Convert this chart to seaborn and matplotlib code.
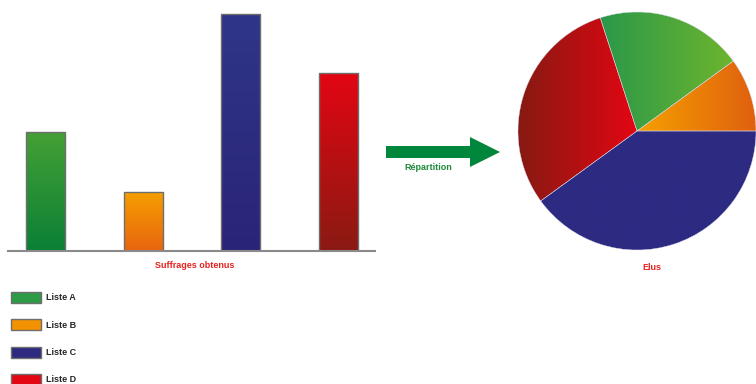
import matplotlib
matplotlib.use("Agg")
import matplotlib.pyplot as plt
from matplotlib.colors import LinearSegmentedColormap
from matplotlib.patches import Patch, FancyArrow
import numpy as np
import seaborn as sns

# data
listes = ["Liste A", "Liste B", "Liste C", "Liste D"]
suffrages = [20, 10, 40, 30]
elus = [2, 1, 4, 3]
pie_order = [1, 0, 3, 2]  # B, A, D, C counterclockwise from east

solid = ["#2E9A45", "#F39200", "#2D2A80", "#E30613"]
bar_grad = [("#45A035", "#0A8035"), ("#F5A000", "#E8650F"),
            ("#2F3689", "#2A2477"), ("#E30613", "#8A1A12")]
pie_grad = [("#2A984A", "#6DB52D"), ("#F5A000", "#E0600F"),
            ("#2D2A82", "#2D2A82"), ("#861A12", "#E30613")]

sns.set_theme(style="white")
plt.rcParams["font.family"] = ["Liberation Sans", "DejaVu Sans"]

W, H = 756, 384
fig = plt.figure(figsize=(W / 100, H / 100), dpi=100)

# ---- bar chart ----
ax1 = fig.add_axes([8 / W, (H - 251) / H, 367 / W, 241 / H])
sns.barplot(x=listes, y=suffrages, hue=listes, palette=solid, legend=False,
            width=0.4, edgecolor="#6E6E6E", linewidth=1, ax=ax1)
ax1.set_xticks([])
ax1.set_yticks([])
ax1.set_xlabel("")
ax1.set_ylabel("")
for s in ["top", "left", "right"]:
    ax1.spines[s].set_visible(False)
ax1.spines["bottom"].set_color("#8A8A8A")
ax1.spines["bottom"].set_linewidth(1.5)

vgrad = np.linspace(0, 1, 256).reshape(-1, 1)
for p, (c_top, c_bot) in zip(ax1.patches, bar_grad):
    bb = p.get_bbox()
    cmap = LinearSegmentedColormap.from_list("g", [c_top, c_bot])
    im = ax1.imshow(vgrad, cmap=cmap, aspect="auto", origin="upper",
                    extent=[bb.x0, bb.x1, bb.y0, bb.y1], zorder=p.get_zorder())
    im.set_clip_path(p)
    p.set_facecolor("none")
    p.set_zorder(p.get_zorder() + 0.5)
ax1.set_xlim(-0.384, 3.374)
ax1.set_ylim(0, 40.6)
fig.text(195 / W, 1 - 265 / H, "Suffrages obtenus", color="#E52420",
         fontsize=6.5, fontweight="bold", ha="center", va="center")

# ---- pie chart ----
ax2 = fig.add_axes([518 / W, (H - 250) / H, 238 / W, 238 / H])
wedges, _ = ax2.pie([elus[i] for i in pie_order],
                    colors=[solid[i] for i in pie_order],
                    startangle=0, counterclock=True, radius=1,
                    wedgeprops=dict(linewidth=0.3, edgecolor="#D8D8E8"))
hgrad = np.linspace(0, 1, 256).reshape(1, -1)
for w, i in zip(wedges, pie_order):
    w.set_clip_on(False)
    th1, th2 = np.deg2rad(w.theta1), np.deg2rad(w.theta2)
    t = np.linspace(th1, th2, 100)
    xs = np.concatenate([[0], np.cos(t)])
    ys = np.concatenate([[0], np.sin(t)])
    cmap = LinearSegmentedColormap.from_list("g", list(pie_grad[i]))
    im = ax2.imshow(hgrad, cmap=cmap, aspect="auto",
                    extent=[xs.min(), xs.max(), ys.min(), ys.max()],
                    zorder=w.get_zorder())
    im.set_clip_path(w)
    w.set_facecolor("none")
    w.set_zorder(w.get_zorder() + 0.5)
ax2.set_xlim(-1, 1)
ax2.set_ylim(-1, 1)
ax2.set_aspect("auto")
ax2.axis("off")
fig.text(652 / W, 1 - 268 / H, "Elus", color="#E52420",
         fontsize=6.5, fontweight="bold", ha="center", va="center")

# ---- arrow ----
ax3 = fig.add_axes([0, 0, 1, 1])
ax3.set_xlim(0, W)
ax3.set_ylim(H, 0)
ax3.axis("off")
ax3.patch.set_alpha(0)
ax3.add_patch(FancyArrow(386, 152, 84, 0, width=12, head_width=30,
                         head_length=30, length_includes_head=False,
                         color="#00873C", lw=0))
ax3.text(428, 167, "Répartition", color="#1E8A3A", fontsize=6.5,
         fontweight="bold", ha="center", va="center")

# ---- legend ----
handles = [Patch(facecolor=c, edgecolor="#6E6E6E", linewidth=1) for c in solid]
fig.legend(handles, listes, loc="upper left", bbox_to_anchor=(11 / W, 1 - 292 / H),
           frameon=False, prop=dict(size=6.5, weight="bold"),
           handlelength=3.3, handleheight=1.5, labelspacing=1.8,
           handletextpad=0.55, borderaxespad=0, borderpad=0)

fig.savefig("out.png", dpi=100)
